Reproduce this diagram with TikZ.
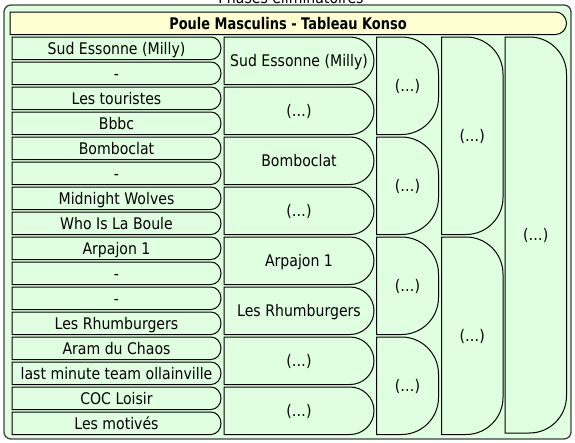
\documentclass[tikz,border=0pt]{standalone}
\usepackage{fontspec}
\setmainfont{DejaVu Sans}[FakeStretch=0.88]
\newfontfamily\hdrfont{DejaVu Sans}[FakeStretch=0.81]
\definecolor{cellgreen}{HTML}{E0FFE0}
\definecolor{panelgreen}{HTML}{E0FFE0}
\definecolor{hdryellow}{HTML}{FFFFD2}
\definecolor{panelborder}{HTML}{404040}
% rounded-right box: style, x1, y1, x2, y2, rx, ry
\newcommand\rrbox[7]{%
  \path[#1] (#2,#3) -- ({#4-#6},#3)
    arc[start angle=90,end angle=0,x radius=#6pt,y radius=#7pt]
    -- (#4,{#5-#7})
    arc[start angle=0,end angle=-90,x radius=#6pt,y radius=#7pt]
    -- (#2,#5) -- cycle;}
\tikzset{
  cell/.style={draw=black, line width=1pt, fill=cellgreen},
  hdrbox/.style={draw=black, line width=1pt, fill=hdryellow},
  panel/.style={draw=panelborder, line width=1.3pt, fill=panelgreen, rounded corners=7pt},
  lbl/.style={anchor=base, inner sep=0pt, font=\fontsize{16}{19}\selectfont},
  hdrlbl/.style={anchor=base, inner sep=0pt, font=\hdrfont\bfseries\fontsize{16}{19}\selectfont},
}
\begin{document}
\begin{tikzpicture}[x=1pt,y=-1pt]
\useasboundingbox (0,0) rectangle (575,442);
% page title, cut off at the top
\node[lbl] (title) at (291,3) {Phases éliminatoires};
% panel
\path[panel] (4,5) rectangle (571,439);
% header
\rrbox{hdrbox}{10}{12}{566.5}{34.5}{11}{11.25}
\node[hdrlbl] (hdr) at (288,29) {Poule Masculins - Tableau Konso};
% column 1
\foreach \i/\t in {0/Sud Essonne (Milly),1/-,2/Les touristes,3/Bbbc,4/Bomboclat,5/-,6/Midnight Wolves,7/Who Is La Boule,8/Arpajon 1,9/-,10/-,11/Les Rhumburgers,12/Aram du Chaos,13/last minute team ollainville,14/COC Loisir,15/Les motivés}{
  \pgfmathsetmacro\ya{37+25*\i}
  \pgfmathsetmacro\yb{59.5+25*\i}
  \pgfmathsetmacro\yt{48.25+25*\i+5.8}
  \rrbox{cell}{12}{\ya}{221}{\yb}{10}{11.25}
  \node[lbl] (a\i) at (116.5,\yt) {\t};
}
% column 2
\foreach \i/\t in {0/Sud Essonne (Milly),1/(…),2/Bomboclat,3/(…),4/Arpajon 1,5/Les Rhumburgers,6/(…),7/(…)}{
  \pgfmathsetmacro\ya{37+50*\i}
  \pgfmathsetmacro\yb{84.5+50*\i}
  \pgfmathsetmacro\yt{60.75+50*\i+5.8}
  \rrbox{cell}{224}{\ya}{374}{\yb}{24}{23.75}
  \node[lbl] (b\i) at (299,\yt) {\t};
}
% column 3
\foreach \i in {0,...,3}{
  \pgfmathsetmacro\ya{37+100*\i}
  \pgfmathsetmacro\yb{134.5+100*\i}
  \pgfmathsetmacro\yt{85.75+100*\i+5.8}
  \rrbox{cell}{376.5}{\ya}{438.5}{\yb}{37}{37}
  \node[lbl] (c\i) at (407.5,\yt) {(…)};
}
% column 4
\foreach \i in {0,1}{
  \pgfmathsetmacro\ya{37+200*\i}
  \pgfmathsetmacro\yb{234.5+200*\i}
  \pgfmathsetmacro\yt{135.75+200*\i+5.8}
  \rrbox{cell}{441.5}{\ya}{503}{\yb}{37}{37}
  \node[lbl] (d\i) at (472.25,\yt) {(…)};
}
% column 5
\rrbox{cell}{505}{37}{566.5}{433}{37}{37}
\node[lbl] (e0) at (535.75,240.8) {(…)};
\end{tikzpicture}
\end{document}
